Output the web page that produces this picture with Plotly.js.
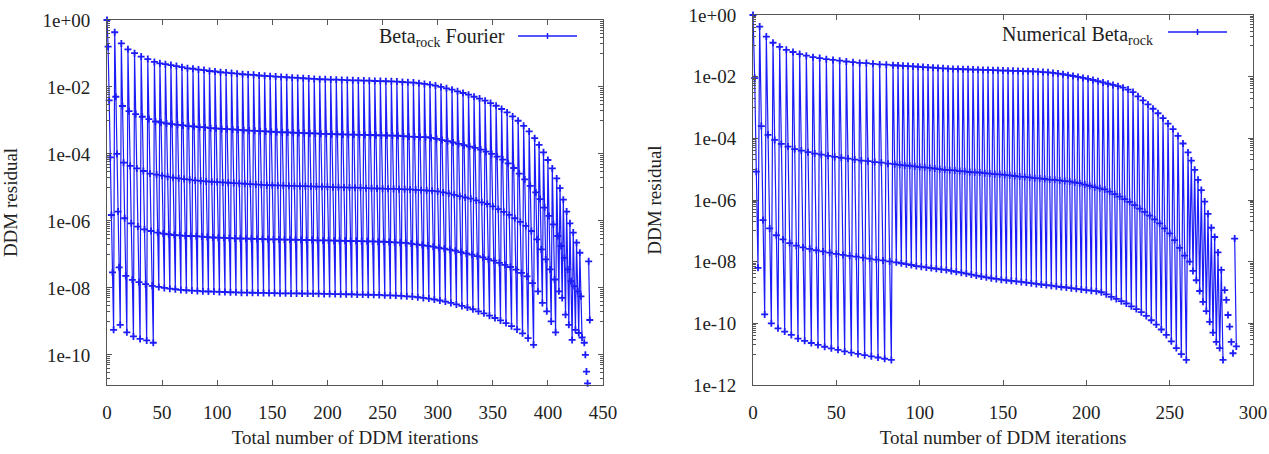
<!DOCTYPE html>
<html><head><meta charset="utf-8">
<script src="https://cdn.plot.ly/plotly-3.0.1.min.js"></script>
<style>html,body{margin:0;padding:0;background:#fff}#chart{width:1269px;height:454px}</style>
</head><body><div id="chart"></div>
<script>
// ---------- LEFT: Beta_rock Fourier (one entry per outer cycle, rows = successive DDM iterations) ----------
const leftTop = [1, 0.43, 0.20, 0.133, 0.102, 0.081, 0.068,
  5.6e-2, 5.1e-2, 4.8e-2, 4.5e-2, 4.2e-2, 3.9e-2, 3.6e-2, 3.5e-2, 3.3e-2, 3.2e-2,
  3.0e-2, 2.9e-2, 2.75e-2, 2.7e-2, 2.6e-2, 2.5e-2, 2.4e-2, 2.35e-2, 2.3e-2, 2.2e-2,
  2.15e-2, 2.1e-2, 2.05e-2, 2.0e-2, 1.95e-2, 1.9e-2, 1.86e-2, 1.82e-2, 1.78e-2, 1.74e-2,
  1.7e-2, 1.69e-2, 1.66e-2, 1.65e-2, 1.62e-2, 1.61e-2, 1.58e-2, 1.57e-2, 1.55e-2, 1.54e-2,
  1.51e-2, 1.5e-2, 1.48e-2, 1.47e-2, 1.45e-2, 1.41e-2, 1.38e-2, 1.35e-2, 1.29e-2, 1.23e-2,
  1.17e-2, 1.1e-2, 1.0e-2, 9.1e-3, 8.3e-3, 7.4e-3, 6.6e-3, 5.9e-3, 5.1e-3, 4.5e-3,
  3.9e-3, 3.3e-3, 2.75e-3, 2.2e-3, 1.74e-3, 1.32e-3, 9.8e-4, 6.9e-4,
  4.7e-4, 2.95e-4, 1.86e-4, 1.12e-4, 6.6e-5, 3.7e-5, 1.86e-5, 9.5e-6, 4.3e-6, 1.9e-6, 8.5e-7, 4.5e-7, 2.24e-7, 1.12e-7];
const leftRow2 = [0.16, 5.1e-3, 2.7e-3, 1.9e-3, 1.55e-3, 1.29e-3, 1.1e-3,
  9.3e-4, 8.7e-4, 8.1e-4, 7.8e-4, 7.4e-4, 7.1e-4, 6.8e-4, 6.6e-4, 6.3e-4, 6.2e-4,
  5.9e-4, 5.75e-4, 5.6e-4, 5.5e-4, 5.4e-4, 5.25e-4, 5.1e-4, 5.0e-4, 4.9e-4, 4.8e-4,
  4.7e-4, 4.6e-4, 4.5e-4, 4.45e-4, 4.4e-4, 4.3e-4, 4.25e-4, 4.2e-4, 4.15e-4, 4.1e-4,
  4.0e-4, 3.98e-4, 3.9e-4, 3.88e-4, 3.82e-4, 3.8e-4, 3.78e-4, 3.72e-4, 3.7e-4, 3.68e-4,
  3.62e-4, 3.6e-4, 3.55e-4, 3.53e-4, 3.5e-4, 3.4e-4, 3.3e-4, 3.25e-4, 3.2e-4, 3.16e-4,
  3.0e-4, 2.8e-4, 2.6e-4, 2.4e-4, 2.2e-4, 2.0e-4, 1.82e-4, 1.66e-4, 1.51e-4, 1.35e-4,
  1.17e-4, 1.0e-4, 8.3e-5, 6.8e-5, 5.25e-5, 3.8e-5, 2.6e-5, 1.74e-5,
  1.12e-5, 7.1e-6, 4.5e-6, 2.5e-6, 1.41e-6, 7.9e-7, 3.55e-7, 1.78e-7, 7.9e-8, 3.55e-8, 1.58e-8, 1.12e-8, 7.9e-9, 5.6e-9];
const leftRow3 = [4e-3, 1.0e-4, 5.5e-5, 4.4e-5, 3.7e-5, 3.1e-5, 2.6e-5,
  2.4e-5, 2.24e-5, 2.1e-5, 1.95e-5, 1.86e-5, 1.78e-5, 1.7e-5, 1.62e-5, 1.58e-5, 1.51e-5,
  1.48e-5, 1.45e-5, 1.41e-5, 1.38e-5, 1.35e-5, 1.32e-5, 1.29e-5, 1.26e-5, 1.23e-5, 1.2e-5,
  1.17e-5, 1.16e-5, 1.15e-5, 1.14e-5, 1.12e-5, 1.11e-5, 1.1e-5, 1.09e-5, 1.07e-5, 1.06e-5,
  1.05e-5, 1.04e-5, 1.02e-5, 1.01e-5, 1.0e-5, 9.9e-6, 9.8e-6, 9.7e-6, 9.5e-6, 9.4e-6,
  9.3e-6, 9.2e-6, 9.1e-6, 9.0e-6, 8.9e-6, 8.8e-6, 8.7e-6, 8.5e-6, 8.3e-6, 8.1e-6,
  7.9e-6, 7.6e-6, 7.1e-6, 6.6e-6, 6.0e-6, 5.5e-6, 5.0e-6, 4.6e-6, 4.1e-6, 3.6e-6,
  3.2e-6, 2.7e-6, 2.24e-6, 1.86e-6, 1.51e-6, 1.2e-6, 9.3e-7, 7.1e-7,
  5.0e-7, 2.8e-7, 1.41e-7, 7.1e-8, 3.55e-8, 1.78e-8, 7.9e-9, 5.0e-9, 1.58e-9, 7.9e-10, 2.8e-10, 5.6e-10, 4.5e-10, 3.3e-10];
const leftRow4 = [7.9e-5, 1.9e-6, 1.2e-6, 8.5e-7, 6.8e-7, 5.6e-7, 5.0e-7,
  4.5e-7, 4.2e-7, 4.0e-7, 3.8e-7, 3.7e-7, 3.6e-7, 3.55e-7, 3.5e-7, 3.4e-7, 3.3e-7,
  3.2e-7, 3.16e-7, 3.1e-7, 3.08e-7, 3.0e-7, 2.98e-7, 2.95e-7, 2.93e-7, 2.9e-7, 2.88e-7,
  2.82e-7, 2.8e-7, 2.8e-7, 2.75e-7, 2.75e-7, 2.74e-7, 2.7e-7, 2.69e-7, 2.68e-7, 2.63e-7,
  2.62e-7, 2.61e-7, 2.57e-7, 2.56e-7, 2.55e-7, 2.51e-7, 2.5e-7, 2.49e-7, 2.45e-7, 2.44e-7,
  2.4e-7, 2.39e-7, 2.35e-7, 2.3e-7, 2.24e-7, 2.2e-7, 2.1e-7, 2.0e-7, 1.9e-7, 1.8e-7,
  1.7e-7, 1.58e-7, 1.48e-7, 1.38e-7, 1.29e-7, 1.17e-7, 1.07e-7, 9.8e-8, 8.9e-8, 8.1e-8,
  7.2e-8, 6.5e-8, 5.6e-8, 4.9e-8, 4.2e-8, 3.5e-8, 2.8e-8, 2.2e-8,
  1.38e-8, 7.9e-9, 3.55e-9, 2.0e-9, 1.0e-9, 4.7e-10];
const leftRow5 = [1.5e-6, 4.1e-8, 2.3e-8, 1.74e-8, 1.48e-8, 1.29e-8, 1.15e-8,
  1.07e-8, 1.0e-8, 9.5e-9, 9.1e-9, 8.7e-9, 8.5e-9, 8.3e-9, 8.1e-9, 7.9e-9, 7.8e-9,
  7.75e-9, 7.6e-9, 7.55e-9, 7.4e-9, 7.35e-9, 7.2e-9, 7.2e-9, 7.15e-9, 7.1e-9, 7.05e-9,
  7.0e-9, 7.0e-9, 6.9e-9, 6.9e-9, 6.85e-9, 6.85e-9, 6.8e-9, 6.75e-9, 6.75e-9, 6.7e-9,
  6.6e-9, 6.6e-9, 6.55e-9, 6.5e-9, 6.45e-9, 6.45e-9, 6.3e-9, 6.3e-9, 6.25e-9, 6.2e-9,
  6.15e-9, 6.0e-9, 5.95e-9, 5.9e-9, 5.75e-9, 5.6e-9, 5.5e-9, 5.25e-9, 5.0e-9, 4.8e-9,
  4.5e-9, 4.2e-9, 3.9e-9, 3.55e-9, 3.2e-9, 2.9e-9, 2.6e-9, 2.3e-9, 2.0e-9, 1.74e-9,
  1.48e-9, 1.26e-9, 1.07e-9, 8.9e-10, 7.2e-10, 5.75e-10, 4.4e-10, 3.16e-10,
  2.0e-10];
const leftRow6 = [2.9e-8, 7.9e-10, 4.7e-10, 3.55e-10, 3.0e-10, 2.7e-10, 2.3e-10];
const leftRow7 = [5.6e-10];
// isolated points and last short cycle at the end of the run
const leftDotsX = [433, 434, 435, 436];
const leftDotsY = [2.3e-10, 1.0e-10, 3.16e-11, 1.41e-11];
const leftLastX = [437, 438];
const leftLastY = [6.2e-8, 1.1e-9];

// ---------- RIGHT: Numerical Beta_rock ----------
const rightTop = [1.0, 0.42, 0.2, 0.126, 9.3e-2, 7.4e-2, 6.3e-2, 5.4e-2, 4.8e-2, 4.3e-2, 4.0e-2,
  3.7e-2, 3.5e-2, 3.3e-2, 3.1e-2, 2.95e-2, 2.8e-2, 2.75e-2, 2.6e-2, 2.5e-2, 2.45e-2,
  2.35e-2, 2.3e-2, 2.24e-2, 2.2e-2, 2.15e-2, 2.1e-2, 2.05e-2, 2.0e-2, 1.95e-2, 1.9e-2,
  1.86e-2, 1.82e-2, 1.78e-2, 1.77e-2, 1.74e-2, 1.73e-2, 1.7e-2, 1.69e-2, 1.66e-2, 1.65e-2,
  1.62e-2, 1.61e-2, 1.58e-2, 1.57e-2, 1.55e-2, 1.54e-2, 1.51e-2, 1.5e-2, 1.48e-2, 1.45e-2,
  1.41e-2, 1.38e-2, 1.32e-2, 1.26e-2, 1.2e-2, 1.12e-2, 1.05e-2, 9.8e-3, 9.1e-3, 8.5e-3,
  7.8e-3, 7.1e-3, 6.5e-3, 5.9e-3, 5.4e-3, 4.9e-3, 4.4e-3, 3.8e-3, 3.16e-3, 2.3e-3,
  1.7e-3, 1.26e-3, 9.1e-4, 6.5e-4, 4.5e-4, 3.0e-4, 2.0e-4, 1.2e-4, 6.8e-5,
  3.5e-5, 1.9e-5, 9.5e-6, 4.5e-6, 2.1e-6, 8.9e-7, 3.55e-7, 1.26e-7, 6.3e-8, 2.0e-8, 5.4e-9];
const rightRow2 = [9e-3, 2.5e-4, 1.3e-4, 8.9e-5, 6.6e-5, 5.4e-5, 4.5e-5, 4.0e-5, 3.55e-5, 3.2e-5, 2.95e-5,
  2.7e-5, 2.5e-5, 2.35e-5, 2.2e-5, 2.05e-5, 1.9e-5, 1.82e-5, 1.7e-5, 1.62e-5, 1.51e-5,
  1.45e-5, 1.38e-5, 1.32e-5, 1.29e-5, 1.23e-5, 1.17e-5, 1.15e-5, 1.1e-5, 1.05e-5, 1.0e-5,
  9.5e-6, 9.3e-6, 9.1e-6, 8.7e-6, 8.5e-6, 8.1e-6, 7.9e-6, 7.8e-6, 7.4e-6, 7.2e-6,
  6.9e-6, 6.8e-6, 6.5e-6, 6.3e-6, 6.0e-6, 5.75e-6, 5.6e-6, 5.4e-6, 5.1e-6, 5.0e-6,
  4.8e-6, 4.6e-6, 4.5e-6, 4.3e-6, 4.1e-6, 4.0e-6, 3.7e-6, 3.5e-6, 3.16e-6, 2.9e-6,
  2.6e-6, 2.4e-6, 2.2e-6, 1.86e-6, 1.55e-6, 1.29e-6, 1.07e-6, 8.7e-7, 6.8e-7, 5.25e-7,
  4.1e-7, 3.1e-7, 2.35e-7, 1.74e-7, 1.2e-7, 8.3e-8, 5.0e-8, 2.8e-8, 1.58e-8,
  1.0e-8, 5.0e-9, 2.5e-9, 1.12e-9, 5.0e-10, 2.5e-10, 1.12e-10, 5.0e-11, 2.5e-11, 1.58e-11, 6.5e-12];
const rightRow3 = [8.3e-6, 2.24e-7, 1.2e-7, 7.2e-8, 5.25e-8, 4.0e-8, 3.3e-8, 2.9e-8, 2.6e-8, 2.35e-8, 2.15e-8,
  1.95e-8, 1.78e-8, 1.66e-8, 1.55e-8, 1.45e-8, 1.35e-8, 1.26e-8, 1.17e-8, 1.1e-8, 1.02e-8,
  9.5e-9, 8.9e-9, 8.3e-9, 7.8e-9, 7.2e-9, 6.9e-9, 6.5e-9, 6.2e-9, 5.9e-9, 5.6e-9,
  5.4e-9, 5.0e-9, 4.7e-9, 4.4e-9, 4.1e-9, 3.8e-9, 3.55e-9, 3.3e-9, 3.1e-9, 2.9e-9,
  2.75e-9, 2.6e-9, 2.5e-9, 2.4e-9, 2.3e-9, 2.2e-9, 2.1e-9, 2.0e-9, 1.9e-9, 1.82e-9,
  1.74e-9, 1.66e-9, 1.58e-9, 1.51e-9, 1.45e-9, 1.38e-9, 1.32e-9, 1.26e-9, 1.2e-9, 1.15e-9,
  1.1e-9, 1.02e-9, 8.7e-10, 7.2e-10, 6.2e-10, 5.25e-10, 4.4e-10, 3.55e-10, 2.9e-10, 2.3e-10,
  1.74e-10, 1.26e-10, 9.1e-11, 6.3e-11, 4.2e-11, 2.6e-11, 1.58e-11, 1.0e-11, 6.5e-12];
const rightRow4 = [6.3e-9, 1.95e-10, 1.0e-10, 6.9e-11, 5.4e-11, 4.2e-11, 3.2e-11, 2.7e-11, 2.3e-11, 2.0e-11, 1.74e-11,
  1.55e-11, 1.38e-11, 1.23e-11, 1.12e-11, 1.02e-11, 9.3e-12, 8.5e-12, 7.8e-12, 7.1e-12, 6.5e-12];
const rightDotsX = [283, 284, 285, 286, 287, 288];
const rightDotsY = [1.2e-9, 5.75e-10, 1.86e-10, 7.8e-11, 2.5e-11, 1.07e-11];
const rightLastX = [289, 290];
const rightLastY = [5.6e-8, 1.78e-11];

const leftTickVals = [1, 1e-2, 1e-4, 1e-6, 1e-8, 1e-10];
const leftTickText = ['1e+00', '1e-02', '1e-04', '1e-06', '1e-08', '1e-10'];
const rightTickVals = [1, 1e-2, 1e-4, 1e-6, 1e-8, 1e-10, 1e-12];
const rightTickText = ['1e+00', '1e-02', '1e-04', '1e-06', '1e-08', '1e-10', '1e-12'];
const leftName = 'Beta<sub>rock</sub> Fourier';
const rightName = 'Numerical Beta<sub>rock</sub>';

// iteration index runs through the cycles, each cycle emits its rows in order
function buildSeries(rows) {
  const n = Math.max(...rows.map(r => r.length));
  const x = [], y = [];
  let it = 0;
  for (let c = 0; c < n; c++) {
    for (const r of rows) {
      if (c < r.length && r[c] !== null) { x.push(it); y.push(r[c]); it++; }
    }
  }
  return {x, y};
}
function withExtras(s, dx, dy, lx, ly) {
  const x = s.x.slice(), y = s.y.slice();
  for (let i = 0; i < dx.length; i++) { x.push(null); y.push(null); x.push(dx[i]); y.push(dy[i]); }
  x.push(null); y.push(null);
  return {x: x.concat(lx), y: y.concat(ly)};
}
const L = withExtras(buildSeries([leftTop, leftRow2, leftRow3, leftRow4, leftRow5, leftRow6, leftRow7]), leftDotsX, leftDotsY, leftLastX, leftLastY);
const R = withExtras(buildSeries([rightTop, rightRow2, rightRow3, rightRow4]), rightDotsX, rightDotsY, rightLastX, rightLastY);

const blue = 'rgb(28,28,248)';
const mk = {symbol: 'cross-thin', size: 5, color: blue, line: {width: 1.8, color: blue}};
const traces = [
  {x: L.x, y: L.y, name: leftName, type: 'scatter', mode: 'lines+markers', xaxis: 'x', yaxis: 'y',
   line: {color: blue, width: 1.2}, marker: mk, connectgaps: false, cliponaxis: false, showlegend: false},
  {x: R.x, y: R.y, name: rightName, type: 'scatter', mode: 'lines+markers', xaxis: 'x2', yaxis: 'y2',
   line: {color: blue, width: 1.2}, marker: mk, connectgaps: false, cliponaxis: false, showlegend: false}
];

function minorVals(exps) {
  const v = [];
  for (const e of exps) for (let m = 1; m <= 9; m++) v.push(m * Math.pow(10, e));
  return v;
}
const font = {family: 'Liberation Serif, Times New Roman, serif', size: 19, color: '#222'};
const legFont = {family: 'Liberation Serif, Times New Roman, serif', size: 20, color: '#222'};
const axisLine = '#555';
function xAxis(dom, range, anchor) {
  return {domain: dom, range: range, anchor: anchor, dtick: 50, tick0: 0, ticks: 'inside', ticklen: 5,
    tickcolor: axisLine, mirror: 'allticks', showline: true, linecolor: axisLine, linewidth: 1,
    showgrid: false, zeroline: false, tickfont: font, ticklabelstandoff: 10,
    title: {text: 'Total number of DDM iterations', font: font, standoff: 8}};
}
function yAxis(dom, range, anchor, tv, tt, minors) {
  return {domain: dom, type: 'log', range: range, anchor: anchor, tickmode: 'array', tickvals: tv, ticktext: tt,
    ticks: 'inside', ticklen: 5, tickcolor: axisLine, mirror: 'allticks', showline: true, linecolor: axisLine,
    linewidth: 1, showgrid: false, zeroline: false, tickfont: font, ticklabelstandoff: 12,
    minor: {tickmode: 'array', tickvals: minors, ticks: 'inside', ticklen: 3, tickcolor: axisLine, showgrid: false},
    title: {text: 'DDM residual', font: font, standoff: 21}};
}
const W = 1269, H = 454;
const layout = {
  width: W, height: H, margin: {l: 0, r: 0, t: 0, b: 0}, paper_bgcolor: '#fff', plot_bgcolor: '#fff',
  showlegend: false, font: font,
  xaxis: xAxis([107 / W, 603 / W], [0, 450], 'y'),
  yaxis: yAxis([69 / H, 434 / H], [-10.9, 0], 'x', leftTickVals, leftTickText, minorVals([-1, -3, -5, -7, -9, -11])),
  xaxis2: xAxis([753 / W, 1253 / W], [0, 300], 'y2'),
  yaxis2: yAxis([69 / H, 439 / H], [-12, 0], 'x2', rightTickVals, rightTickText, minorVals([-1, -3, -5, -7, -9, -11])),
  annotations: [
    {text: leftName, xref: 'paper', yref: 'paper', x: 507 / W, y: 1 - 38 / H, xanchor: 'right', yanchor: 'middle', showarrow: false, font: legFont},
    {text: rightName, xref: 'paper', yref: 'paper', x: 1155 / W, y: 1 - 35 / H, xanchor: 'right', yanchor: 'middle', showarrow: false, font: legFont}
  ],
  shapes: [
    {type: 'line', xref: 'paper', yref: 'paper', x0: 518 / W, x1: 577 / W, y0: 1 - 36 / H, y1: 1 - 36 / H, line: {color: blue, width: 1.5}},
    {type: 'line', xref: 'paper', yref: 'paper', x0: 547.5 / W, x1: 547.5 / W, y0: 1 - 33 / H, y1: 1 - 39 / H, line: {color: blue, width: 1.5}},
    {type: 'line', xref: 'paper', yref: 'paper', x0: 1168 / W, x1: 1227 / W, y0: 1 - 32 / H, y1: 1 - 32 / H, line: {color: blue, width: 1.5}},
    {type: 'line', xref: 'paper', yref: 'paper', x0: 1197.5 / W, x1: 1197.5 / W, y0: 1 - 29 / H, y1: 1 - 35 / H, line: {color: blue, width: 1.5}}
  ]
};
Plotly.newPlot('chart', traces, layout, {displayModeBar: false, staticPlot: true});
</script>
</body></html>
